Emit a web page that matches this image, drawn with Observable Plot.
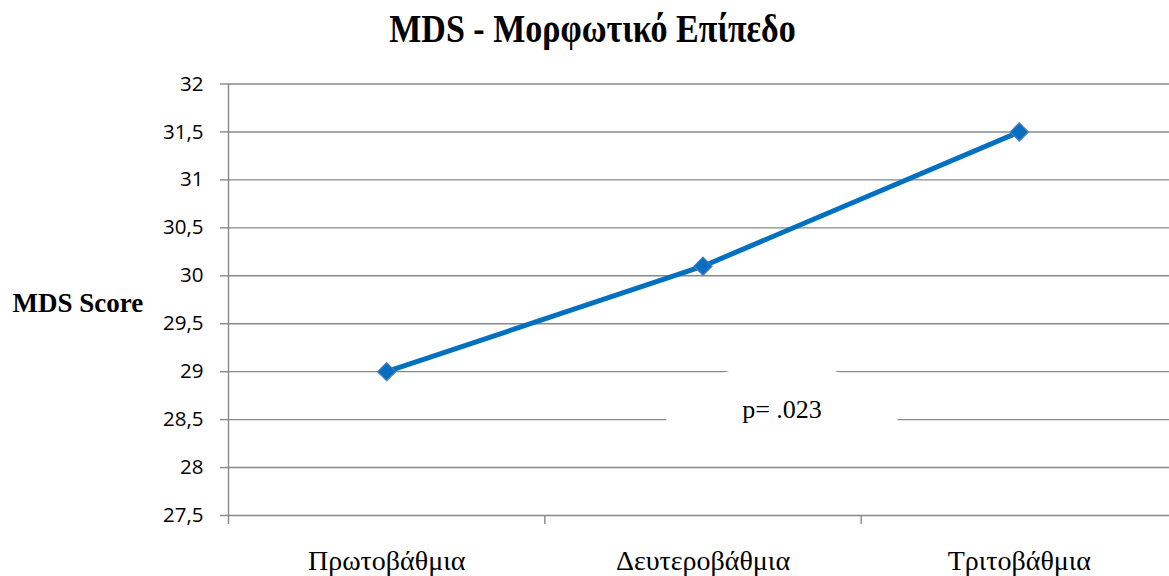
<!DOCTYPE html>
<html>
<head>
<meta charset="utf-8">
<script src="https://cdn.jsdelivr.net/npm/d3@7"></script>
<script src="https://cdn.jsdelivr.net/npm/@observablehq/plot@0.6"></script>
<style>
  html, body { margin: 0; padding: 0; background: #fff; overflow: hidden; }
  #title {
    height: 64px; line-height: 62px; text-align: center;
    font-family: "Liberation Serif", "DejaVu Serif", serif; font-weight: bold;
    font-size: 34px; color: #000; padding-left: 16px;
  }
  #title span { display: inline-block; transform: scaleY(1.15); transform-origin: 50% 70%; }
</style>
</head>
<body>
<div id="title"><span>MDS - Μορφωτικό Επίπεδο</span></div>
<div id="chart"></div>
<script>
// ---- data ----
const categories = ["Πρωτοβάθμια", "Δευτεροβάθμια", "Τριτοβάθμια"];
const mdsScores = [29.0, 30.1, 31.5];
const yTicks = [27.5, 28, 28.5, 29, 29.5, 30, 30.5, 31, 31.5, 32];
const yLabel = "MDS Score";
const annotationText = "p= .023";
const annotationCategory = "Δευτεροβάθμια";
const annotationValue = 28.6;

const rows = categories.map((c, i) => ({category: c, score: mdsScores[i]}));

const W = 1169, H = 512;
const mL = 228, mR = -8, mT = 19.5, mB = 61;
const step = (W - mL - mR) / categories.length;
const frameH = H - mT - mB;

// white rounded "text box" behind annotation
const cloud = {
  draw(ctx) {
    const cy = 20, a = 117, b = 66, k = 0.5523;
    ctx.moveTo(-a, cy);
    ctx.bezierCurveTo(-a, cy - k * b, -k * a, cy - b, 0, cy - b);
    ctx.bezierCurveTo(k * a, cy - b, a, cy - k * b, a, cy);
    ctx.closePath();
  }
};

const chart = Plot.plot({
  width: W, height: H,
  marginLeft: mL, marginRight: mR, marginTop: mT, marginBottom: mB,
  style: {fontFamily: "'Open Sans', 'Liberation Sans', sans-serif", background: "white", overflow: "visible"},
  x: {type: "point", domain: categories, padding: 0.5, align: 0.5, round: false, label: null},
  y: {domain: [27.5, 32], label: null},
  marks: [
    Plot.ruleY(yTicks, {stroke: "#888888", strokeWidth: 1.4}),
    // y axis line (left edge), extending below as a tick
    Plot.ruleX([categories[0]], {x: d => d, dx: -step / 2, stroke: "#888888", strokeWidth: 1.4, insetBottom: -9}),
    // category boundary ticks
    Plot.ruleX(categories.slice(1), {x: d => d, dx: -step / 2, stroke: "#888888", strokeWidth: 1.4, insetTop: frameH, insetBottom: -9}),
    Plot.axisY({ticks: yTicks, tickSize: 8, tickPadding: 17, stroke: "#888888", strokeWidth: 1.4,
      tickFormat: d => String(d).replace(".", ","), fontSize: 20.5, fill: "#000"}),
    Plot.axisX({tickSize: 0, tickPadding: 35, fontSize: 28, fill: "#000",
      fontFamily: "'Liberation Serif', 'DejaVu Serif', serif"}),
    Plot.dot([annotationText], {x: () => annotationCategory, y: () => annotationValue, dx: 79,
      symbol: cloud, fill: "white", stroke: "none"}),
    Plot.line(rows, {x: "category", y: "score", stroke: "#0070C0", strokeWidth: 5}),
    Plot.dot(rows, {x: "category", y: "score", symbol: "diamond2", r: 8.2,
      fill: "#0A6DC0", stroke: "#4A7FC4", strokeWidth: 1.2}),
    Plot.text([annotationText], {x: () => annotationCategory, y: () => annotationValue, dx: 79,
      text: d => d, fontSize: 26, fill: "#000",
      fontFamily: "'Liberation Serif', 'DejaVu Serif', serif"}),
    Plot.text([yLabel], {frameAnchor: "left", dx: -216, dy: 4, text: d => d, textAnchor: "start",
      fontSize: 27, fontWeight: "bold", fill: "#000",
      fontFamily: "'Liberation Serif', 'DejaVu Serif', serif"})
  ]
});
document.getElementById("chart").appendChild(chart);
</script>
</body>
</html>
